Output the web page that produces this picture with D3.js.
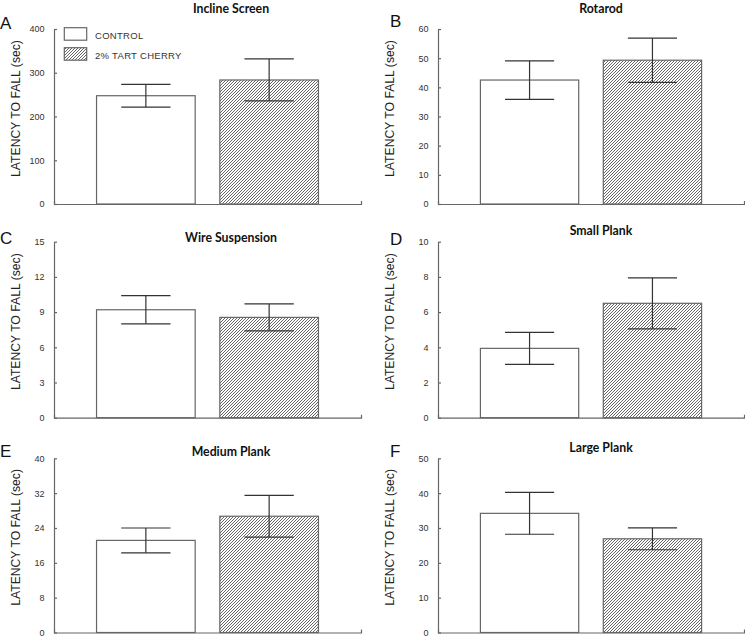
<!DOCTYPE html>
<html><head><meta charset="utf-8">
<script src="https://cdn.jsdelivr.net/npm/d3@7"></script>
<style>body{margin:0;background:#fff}svg{display:block}</style>
</head><body><svg id="c" width="745" height="637"></svg>
<script>
// ---- data ----
const panelLetters = ["A","B","C","D","E","F"];
const panelTitles = ["Incline Screen","Rotarod","Wire Suspension","Small Plank","Medium Plank","Large Plank"];
const groups = ["CONTROL","2% TART CHERRY"];
const controlMeans = [247.5, 42.5, 9.2, 3.94, 21.15, 34.2];
const controlSEM   = [25.9, 6.6, 1.2, 0.91, 2.85, 6.0];
const cherryMeans  = [283.5, 49.3, 8.55, 6.5, 26.7, 26.9];
const cherrySEM    = [48, 7.6, 1.15, 1.45, 4.8, 3.15];
const yMaxes = [400, 60, 15, 10, 40, 50];
const yTickLabels = [
  [0,100,200,300,400],
  [0,10,20,30,40,50,60],
  [0,3,6,9,12,15],
  [0,2,4,6,8,10],
  [0,8,16,24,32,40],
  [0,10,20,30,40,50]
];
const yAxisTitle = "LATENCY TO FALL (sec)";

// ---- layout ----
const cols = [
  {ax:54, right:361, labelX:15.5, titleX:231, letterX:0},
  {ax:438, right:744, labelX:390, titleX:601, letterX:390}
];
const rows = [{top:29,bottom:204},{top:241.7,bottom:417.7},{top:458.3,bottom:632.5}];
const titleDy = [-16.4,-16.4,0.6,-6.7,-2.6,-6.6];
const letterBase = [29, 26.7, 244, 245, 457, 456.7];

const svg = d3.select("#c");
svg.append("rect").attr("width",745).attr("height",637).attr("fill","#fff");

const defs = svg.append("defs");
const pat = defs.append("pattern").attr("id","hatch")
  .attr("patternUnits","userSpaceOnUse").attr("width",3).attr("height",3);
pat.append("rect").attr("width",3).attr("height",3).attr("fill","#fff");
pat.append("path").attr("d","M-0.75,0.75L0.75,-0.75M0,3L3,0M2.25,3.75L3.75,2.25")
  .attr("stroke","#555").attr("stroke-width",0.9);

const fills = ["#fff","url(#hatch)"];

panelLetters.forEach((letter,i)=>{
  const col = cols[i%2], row = rows[Math.floor(i/2)];
  const g = svg.append("g");
  const y = d3.scaleLinear().domain([0,yMaxes[i]]).range([row.bottom,row.top]);
  const x = d3.scaleBand().domain(groups).range([col.ax,col.right])
    .paddingInner(0.2).paddingOuter(0.345);

  const means = [controlMeans[i], cherryMeans[i]];
  const sems = [controlSEM[i], cherrySEM[i]];
  const data = groups.map((k,j)=>({k, m:means[j], s:sems[j], f:fills[j]}));

  // bars
  g.selectAll("rect.bar").data(data).enter().append("rect")
    .attr("x",d=>x(d.k)).attr("width",x.bandwidth())
    .attr("y",d=>y(d.m)).attr("height",d=>y(0)-y(d.m))
    .attr("fill",d=>d.f).attr("stroke","#666").attr("stroke-width",1.2);

  // error bars
  const eb = g.selectAll("g.eb").data(data).enter().append("g")
    .attr("stroke","#333").attr("stroke-width",1.2);
  eb.append("line")
    .attr("x1",d=>x(d.k)+x.bandwidth()/2).attr("x2",d=>x(d.k)+x.bandwidth()/2)
    .attr("y1",d=>y(d.m-d.s)).attr("y2",d=>y(d.m+d.s));
  [1,-1].forEach(sg=>{
    eb.append("line")
      .attr("x1",d=>x(d.k)+x.bandwidth()/4).attr("x2",d=>x(d.k)+x.bandwidth()*3/4)
      .attr("y1",d=>y(d.m+sg*d.s)).attr("y2",d=>y(d.m+sg*d.s));
  });

  // y axis
  const ya = g.append("g").attr("transform",`translate(${col.ax},0)`)
    .call(d3.axisLeft(y).tickValues(yTickLabels[i]).tickSize(-3).tickSizeOuter(0).tickPadding(9.5));
  ya.selectAll("path,line").attr("stroke","#666").attr("stroke-width",1.2);
  ya.selectAll("text").attr("font-family","'Liberation Sans',Arial,sans-serif")
    .attr("font-size",9).attr("fill","#333");

  // x axis
  const xa = g.append("g").attr("transform",`translate(0,${row.bottom})`)
    .call(d3.axisBottom(x).tickValues([]).tickSizeOuter(-3));
  xa.selectAll("path").attr("stroke","#666").attr("stroke-width",1.2);

  // y axis title
  g.append("text")
    .attr("transform",`translate(${col.labelX+4.3},${(row.top+row.bottom)/2-8}) rotate(-90)`)
    .attr("text-anchor","middle")
    .attr("font-family","'Liberation Sans',Arial,sans-serif").attr("font-size",12.2)
    .attr("fill","#222").text(yAxisTitle);

  // panel title
  g.append("text").attr("x",col.titleX).attr("y",row.top+titleDy[i])
    .attr("text-anchor","middle").attr("font-family","Lato,'Open Sans',sans-serif")
    .attr("font-weight",700).attr("font-size",12.3).attr("fill","#111").text(panelTitles[i]);

  // panel letter
  g.append("text").attr("x",col.letterX).attr("y",letterBase[i])
    .attr("font-family","'Liberation Sans',Arial,sans-serif").attr("font-size",17)
    .attr("fill","#111").text(letter);

  // legend (panel A only)
  if(i===0){
    const lg = g.append("g");
    groups.forEach((name,j)=>{
      lg.append("rect").attr("x",64.3).attr("y",27.7+20*j).attr("width",22.4).attr("height",12.5)
        .attr("fill",fills[j]).attr("stroke","#666").attr("stroke-width",1.2);
      lg.append("text").attr("x",95).attr("y",39.3+19.2*j)
        .attr("font-family","'Liberation Sans',Arial,sans-serif").attr("font-size",9.5)
        .attr("letter-spacing",0.3).attr("fill","#333").text(name);
    });
  }
});
</script>
</body></html>
